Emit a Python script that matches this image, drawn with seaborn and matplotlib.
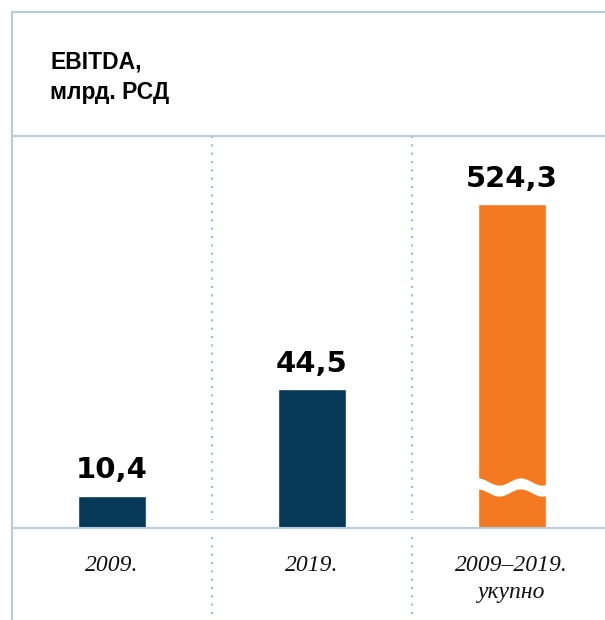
import numpy as np
import pandas as pd
import matplotlib
matplotlib.use("Agg")
import matplotlib.pyplot as plt
from matplotlib.lines import Line2D
import seaborn as sns

# ---- data ----
categories = ["2009.", "2019.", "2009–2019.\nукупно"]
values = [10.4, 44.5, 524.3]
value_labels = ["10,4", "44,5", "524,3"]
# the third bar is drawn on a broken axis, capped at this height
axis_break_height = 103.8
title_lines = ["EBITDA,", "млрд. РСД"]

bar_colors = ["#063a58", "#063a58", "#f47920"]
line_color = "#b5cbe2"
dot_color = "#9fb9d6"

display_values = [min(v, axis_break_height) for v in values]
df = pd.DataFrame({"cat": categories, "val": display_values})

sns.set_theme(style="white")
plt.rcParams["font.family"] = ["DejaVu Sans"]

W, H = 605, 620
fig = plt.figure(figsize=(W / 100, H / 100), dpi=100)
ax = fig.add_axes([12 / W, 0, 1 - 12 / W, (H - 136) / H])

bw = 0.34
sns.barplot(data=df, x="cat", y="val", hue="cat", palette=bar_colors,
            width=bw, legend=False, ax=ax, saturation=1)

px_per_unit = 3.12
ax.set_ylim(-92 / px_per_unit, 392 / px_per_unit)
ax.set_xlim(-0.4975, 2.4675)
ax.set_axis_off()

# baseline
ax.axhline(0, color=line_color, lw=1.5, zorder=1)

# dotted separators (gap around the baseline)
for xs in [0.5, 1.5]:
    ax.plot([xs, xs], [392 / px_per_unit, 8 / px_per_unit], color=dot_color,
            lw=1.5, ls=(0, (1, 3.0)), zorder=1)
    ax.plot([xs, xs], [-9 / px_per_unit, -92 / px_per_unit], color=dot_color,
            lw=1.5, ls=(0, (1, 3.0)), zorder=1)

# value labels
for i, (h, lab) in enumerate(zip(display_values, value_labels)):
    ax.annotate(lab, (i, h), xytext=(0, 12.5), textcoords="offset points",
                ha="center", va="baseline", fontsize=21, fontweight="heavy",
                color="black", family="DejaVu Sans")

# wavy break on capped bars
for i, (v, h) in enumerate(zip(values, display_values)):
    if v > h:
        xw = np.linspace(i - bw / 2 - 0.01, i + bw / 2 + 0.01, 200)
        center = 41 / px_per_unit
        amp = 3.6 / px_per_unit
        phase = (xw - (i - bw / 2)) / 0.215 * 2 * np.pi
        y1 = center + amp * np.cos(phase) - 5.5 / px_per_unit
        y2 = center + amp * np.cos(phase) + 5.5 / px_per_unit
        ax.fill_between(xw, y1, y2, color="white", zorder=5, lw=0)

# category labels
for i, cat in enumerate(categories):
    for j, line in enumerate(cat.split("\n")):
        ax.text(i, (-43 - 27 * j) / px_per_unit, line, ha="center", va="baseline",
                fontsize=17, style="italic", family="Liberation Serif",
                color="#111111")

# frame lines
fig.add_artist(Line2D([12 / W, 12 / W], [0, 1 - 12 / H], color=line_color, lw=1.5))
fig.add_artist(Line2D([12 / W, 1], [1 - 12 / H, 1 - 12 / H], color=line_color, lw=1.5))
fig.add_artist(Line2D([12 / W, 1], [1 - 136 / H, 1 - 136 / H], color=line_color, lw=1.5))

# title
for k, (t, yb) in enumerate(zip(title_lines, [68, 99])):
    fig.text(50 / W, 1 - yb / H, t, ha="left", va="baseline", fontsize=16.5,
             fontweight="bold", family="Liberation Sans", color="black")

fig.savefig("out.png", dpi=100)
